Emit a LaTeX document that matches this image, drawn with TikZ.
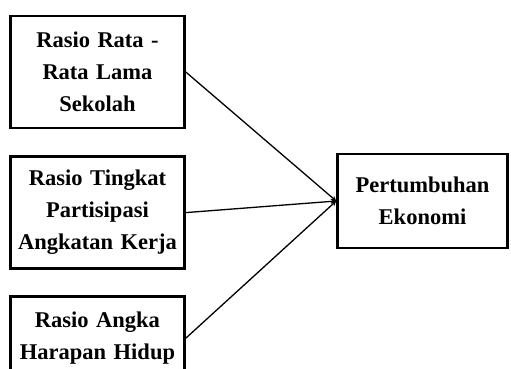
\documentclass[tikz,border=0pt]{standalone}
\usepackage{fontspec}
\setmainfont{Liberation Serif}
\usepackage{tikz}
\usetikzlibrary{arrows,positioning}

\tikzset{
  var/.style={draw=black,line width=2.6pt,fill=white,align=center,inner sep=3pt,
    text width=168pt,font=\bfseries\fontsize{22.5}{32}\selectfont},
  link/.style={->,>=stealth,line width=1.3pt}
}

\begin{document}
\begin{tikzpicture}[x=1pt,y=1pt]
\clip (0,0) rectangle (511,-368);
\useasboundingbox (0,0) rectangle (511,-368);
\node[var,minimum height=112pt] (rls) at (97.5,-72) {Rasio Rata -\\Rata Lama\\Sekolah};
\node[var,minimum height=112pt] (tpak) [below=26pt of rls] {Rasio Tingkat\\Partisipasi\\Angkatan Kerja};
\node[var,minimum height=84pt] (ahh) [below=25pt of tpak] {Rasio Angka\\Harapan Hidup};
\node[var,text width=164pt,minimum height=94pt] (pe) at (422.5,-201) {Pertumbuhan\\Ekonomi};

\draw[link] (rls.east) -- (pe.west);
\draw[link] (tpak.east) -- (pe.west);
\draw[link] (ahh.east) -- (pe.west);
\end{tikzpicture}
\end{document}
